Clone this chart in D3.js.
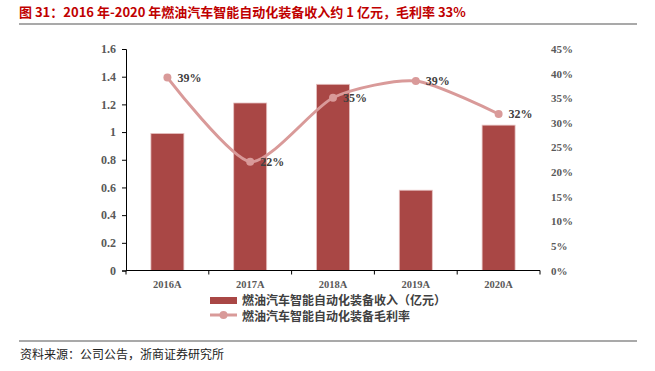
<!DOCTYPE html>
<html>
<head>
<meta charset="utf-8">
<script src="https://cdn.jsdelivr.net/npm/d3@7"></script>
<style>
body { margin: 0; background: #fff; }
svg text { font-family: "Liberation Serif", "Noto Sans CJK SC", serif; }
</style>
</head>
<body>
<div id="chart"></div>
<script>
// data
var years = ["2016A", "2017A", "2018A", "2019A", "2020A"];
var revenue = [0.99, 1.21, 1.345, 0.58, 1.05];   // 亿元
var margin = [0.392, 0.221, 0.351, 0.385, 0.318];
var marginLabels = ["39%", "22%", "35%", "39%", "32%"];
var leftTicks = [0, 0.2, 0.4, 0.6, 0.8, 1, 1.2, 1.4, 1.6];
var rightTicks = [0, 0.05, 0.1, 0.15, 0.2, 0.25, 0.3, 0.35, 0.4, 0.45];

var W = 655, H = 371;
var plot = {left: 126, right: 540, top: 49, bottom: 270.5};

var svg = d3.select("#chart").append("svg")
    .attr("width", W)
    .attr("height", H);

// title + rules
svg.append("text")
    .attr("x", 19).attr("y", 17)
    .style("font-family", "'Noto Sans CJK SC', sans-serif")
    .style("font-size", "13px")
    .style("font-weight", "bold")
    .style("fill", "#C00000")
    .text("图 31：2016 年-2020 年燃油汽车智能自动化装备收入约 1 亿元，毛利率 33%");

svg.append("line")
    .attr("x1", 19).attr("x2", 637).attr("y1", 24).attr("y2", 24)
    .style("stroke", "#8c8c8c").style("stroke-width", 1.5);
svg.append("line")
    .attr("x1", 19).attr("x2", 637).attr("y1", 341).attr("y2", 341)
    .style("stroke", "#8c8c8c").style("stroke-width", 1.5);

svg.append("text")
    .attr("x", 20).attr("y", 359)
    .style("font-family", "'Noto Sans CJK SC', sans-serif")
    .style("font-size", "12px")
    .style("fill", "#222")
    .text("资料来源：公司公告，浙商证券研究所");

// scales
var xb = d3.scaleBand().domain(years).range([plot.left, plot.right]);
var yL = d3.scaleLinear().domain([0, 1.6]).range([plot.bottom, plot.top]);
var yR = d3.scaleLinear().domain([0, 0.45]).range([plot.bottom, plot.top]);

// bars
svg.selectAll(".bar")
    .data(revenue)
  .enter().append("rect")
    .attr("class", "bar")
    .attr("x", function(d, i) { return xb(years[i]) + xb.bandwidth() / 2 - 16.5; })
    .attr("width", 33)
    .attr("y", function(d) { return yL(d); })
    .attr("height", function(d) { return yL(0) - yL(d); })
    .style("fill", "#A94745")
    .style("stroke", "#E7C3C2")
    .style("stroke-width", 0.8);

// left axis
var gL = svg.append("g")
    .attr("transform", "translate(" + plot.left + ",0)")
    .call(d3.axisLeft(yL).tickValues(leftTicks).tickSize(4).tickFormat(d3.format("")));
gL.select(".domain").style("stroke", "#000");
gL.selectAll("line").style("stroke", "#000");
gL.selectAll("text")
    .attr("x", -10)
    .style("font-size", "12px")
    .style("font-weight", "bold")
    .style("fill", "#595959");

// right axis (labels only)
var gR = svg.append("g")
    .attr("transform", "translate(" + (plot.right + 10) + ",0)")
    .call(d3.axisRight(yR).tickValues(rightTicks).tickSize(0).tickFormat(d3.format(".0%")));
gR.select(".domain").remove();
gR.selectAll("text")
    .attr("x", 1)
    .style("font-size", "11px")
    .style("font-weight", "bold")
    .style("fill", "#595959");

// x axis with ticks at category boundaries
var gX = svg.append("g")
    .attr("transform", "translate(0," + plot.bottom + ")");
gX.append("line")
    .attr("x1", plot.left).attr("x2", plot.right)
    .style("stroke", "#000");
gX.selectAll(".tk")
    .data(years.concat(["end"]))
  .enter().append("line")
    .attr("x1", function(d, i) { return i < years.length ? xb(d) : plot.right; })
    .attr("x2", function(d, i) { return i < years.length ? xb(d) : plot.right; })
    .attr("y1", 0).attr("y2", 4)
    .style("stroke", "#000");
gX.selectAll(".lbl")
    .data(years)
  .enter().append("text")
    .attr("x", function(d) { return xb(d) + xb.bandwidth() / 2; })
    .attr("y", 17)
    .attr("text-anchor", "middle")
    .style("font-size", "10.5px")
    .style("font-weight", "bold")
    .style("fill", "#595959")
    .text(function(d) { return d; });

// margin line
var line = d3.line()
    .x(function(d, i) { return xb(years[i]) + xb.bandwidth() / 2; })
    .y(function(d) { return yR(d); })
    .curve(d3.curveCardinal.tension(0.3));

svg.append("path")
    .datum(margin)
    .attr("d", line)
    .style("fill", "none")
    .style("stroke", "#D99A99")
    .style("stroke-width", 3);

svg.selectAll(".pt")
    .data(margin)
  .enter().append("circle")
    .attr("cx", function(d, i) { return xb(years[i]) + xb.bandwidth() / 2; })
    .attr("cy", function(d) { return yR(d); })
    .attr("r", 4)
    .style("fill", "#D99A99");

svg.selectAll(".pl")
    .data(margin)
  .enter().append("text")
    .attr("x", function(d, i) { return xb(years[i]) + xb.bandwidth() / 2 + 10; })
    .attr("y", function(d) { return yR(d) + 4; })
    .style("font-size", "12px")
    .style("font-weight", "bold")
    .style("fill", "#404040")
    .text(function(d, i) { return marginLabels[i]; });

// legend
var lg = svg.append("g").attr("transform", "translate(210,0)");
lg.append("rect")
    .attr("x", 0).attr("y", 297).attr("width", 27).attr("height", 7)
    .style("fill", "#A94745");
lg.append("text")
    .attr("x", 32).attr("y", 305)
    .style("font-family", "'Noto Sans CJK SC', sans-serif")
    .style("font-size", "12px")
    .style("font-weight", "bold")
    .style("fill", "#404040")
    .text("燃油汽车智能自动化装备收入（亿元）");
lg.append("line")
    .attr("x1", 0).attr("x2", 27).attr("y1", 315).attr("y2", 315)
    .style("stroke", "#D99A99").style("stroke-width", 3);
lg.append("circle")
    .attr("cx", 13.5).attr("cy", 315).attr("r", 4)
    .style("fill", "#D99A99");
lg.append("text")
    .attr("x", 32).attr("y", 321)
    .style("font-family", "'Noto Sans CJK SC', sans-serif")
    .style("font-size", "12px")
    .style("font-weight", "bold")
    .style("fill", "#404040")
    .text("燃油汽车智能自动化装备毛利率");
</script>
</body>
</html>
